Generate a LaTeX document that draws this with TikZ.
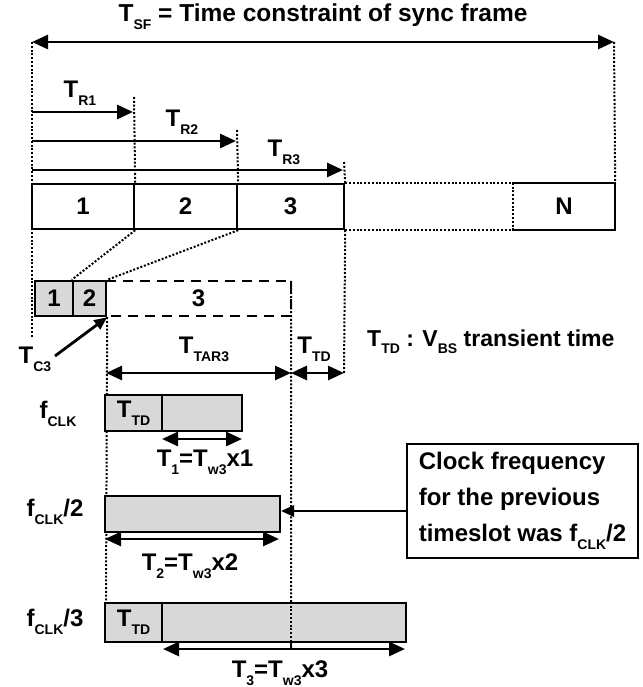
\documentclass[tikz,border=0pt]{standalone}
\usepackage{fontspec}
\setmainfont{Liberation Sans}
\usetikzlibrary{arrows.meta}
\newcommand\lsub[1]{\raisebox{-0.32em}{\fontsize{14}{14}\selectfont #1}}
\definecolor{shadegray}{RGB}{216,216,216}
\begin{document}
\begin{tikzpicture}[x=1pt,y=-1pt,
  lbl/.style={font=\fontsize{24}{26}\selectfont\bfseries, inner sep=0pt},
  slot/.style={draw, line width=2.4pt, minimum height=45pt, inner sep=0pt, font=\fontsize{24}{26}\selectfont\bfseries},
  sbox/.style={draw, line width=2.4pt, fill=shadegray, inner sep=0pt, font=\fontsize{24}{26}\selectfont\bfseries},
  dots/.style={line width=2pt, dash pattern=on 2pt off 1.8pt},
  dashes/.style={line width=2.4pt, dash pattern=on 10pt off 7pt},
  tip/.tip={Triangle[length=16pt,width=14pt]},
  onearr/.style={line width=2.8pt, -tip},
  twoarr/.style={line width=2.8pt, tip-tip},
]
\useasboundingbox (0,0) rectangle (642,687);

% ---------- title and frame arrow
\node[lbl, font=\fontsize{24.5}{26}\selectfont\bfseries] (title) at (323,17) {T\lsub{SF} = Time constraint of sync frame};
\coordinate (L0) at (32,42);
\coordinate (R0) at (614,42);
\draw[twoarr] (L0) -- (R0);

% ---------- slots
\node[slot, minimum width=102pt] (s1) at (83,206.5) {1};
\node[slot, minimum width=103pt] (s2) at (185.5,206.5) {2};
\node[slot, minimum width=107pt] (s3) at (290.5,206.5) {3};
\node[slot, draw=none, minimum width=100pt] (sN) at (564,206.5) {N};
\draw[line width=2.4pt] (sN.north west) -- (sN.north east) -- (sN.south east) -- (sN.south west);
\draw[dots] (sN.north west) -- (sN.south west);
\draw[dots] (s3.north east) -- (sN.north west);
\draw[dots] (s3.south east) -- (sN.south west);

% ---------- T_R arrows
\coordinate (a1s) at (32,112); \coordinate (a1e) at (133,112);
\coordinate (a2s) at (32,141); \coordinate (a2e) at (236,141);
\coordinate (a3s) at (32,170); \coordinate (a3e) at (343,170);
\draw[onearr] (a1s) -- (a1e);
\draw[onearr] (a2s) -- (a2e);
\draw[onearr] (a3s) -- (a3e);
\node[lbl] (tr1) at (80,93) {T\lsub{R1}};
\node[lbl] (tr2) at (182,122) {T\lsub{R2}};
\node[lbl] (tr3) at (284,152) {T\lsub{R3}};

% ---------- dotted verticals (top)
\coordinate (Lb) at (32,337);
\coordinate (v1t) at (134,97);
\coordinate (v2t) at (237,130);
\coordinate (v3t) at (344,162);
\coordinate (v3b) at (344,373);
\draw[dots] (L0) -- (Lb);
\draw[dots] (R0) -- (sN.north east);
\draw[dots] (v1t) -- (s1.north east);
\draw[dots] (v2t) -- (s2.north east);
\draw[dots] (v3t) -- (s3.north east);
\draw[dots] (s3.south east) -- (v3b);

% ---------- compressed slots
\node[sbox, minimum width=38pt, minimum height=35pt] (c1) at (54,298.5) {1};
\node[sbox, minimum width=33pt, minimum height=35pt] (c2) at (89.5,298.5) {2};
\node[lbl, minimum width=185pt, minimum height=35pt] (c3) at (198.5,298.5) {3};
\draw[dashes] (c3.north west) -- (c3.north east) -- (c3.south east) -- (c3.south west);
\draw[dots] (s1.south east) -- (c2.north west);
\draw[dots] (s2.south east) -- (c2.north east);

% T_C3
\node[lbl] (tc3) at (35,359) {T\lsub{C3}};
\coordinate (tc3s) at (55,356);
\draw[line width=2.8pt, -{Triangle[length=13pt,width=11pt]}] (tc3s) -- (c2.south east);

% ---------- TAR3 / TD
\coordinate (x106) at (106,373);
\coordinate (x291) at (291,373);
\coordinate (x291b) at (291,649);
\draw[dots] (c3.north east) -- (x291b);
\draw[twoarr] (x106) -- (x291);
\draw[twoarr] (x291) -- (v3b);
\node[lbl] (ttar) at (204,349) {T\lsub{TAR3}};
\node[lbl] (ttd) at (314,349) {T\lsub{TD}};
\node[lbl, anchor=west, font=\fontsize{23}{25}\selectfont\bfseries] (note) at (367,342) {T\lsub{TD} : V\lsub{BS} transient time};

% ---------- f rows
\coordinate (f3top) at (106,603);
\draw[dots] (c2.south east) -- (f3top);

\node[lbl] (fl1) at (58,414) {f\lsub{CLK}};
\node[lbl] (fl2) at (55,512) {f\lsub{CLK}/2};
\node[lbl] (fl3) at (55,622) {f\lsub{CLK}/3};

\node[sbox, minimum width=57pt, minimum height=36pt] (f1a) at (133.5,413) {T\lsub{TD}};
\node[sbox, minimum width=80pt, minimum height=36pt] (f1b) at (202,413) {};
\coordinate (t1s) at (162,439); \coordinate (t1e) at (242,439);
\draw[twoarr] (t1s) -- (t1e);
\node[lbl] (t1) at (205,462) {T\lsub{1}=T\lsub{w3}x1};

\node[sbox, minimum width=175pt, minimum height=36pt] (f2) at (192.5,514) {};
\coordinate (t2s) at (105,539); \coordinate (t2e) at (279,539);
\draw[twoarr] (t2s) -- (t2e);
\node[lbl] (t2) at (190,566) {T\lsub{2}=T\lsub{w3}x2};

\node[sbox, minimum width=57pt, minimum height=39pt] (f3a) at (133.5,622.5) {T\lsub{TD}};
\node[sbox, minimum width=244pt, minimum height=39pt] (f3b) at (284,622.5) {};
\draw[dots] (f3b.north -| x291) -- (x291b);
\coordinate (t3s) at (163,649); \coordinate (t3e) at (405,649);
\draw[twoarr] (t3s) -- (t3e);
\node[lbl] (t3) at (280,673) {T\lsub{3}=T\lsub{w3}x3};

% ---------- callout
\node[draw, line width=2.4pt, minimum width=231pt, minimum height=114pt, inner sep=0pt,
      align=left, font=\fontsize{24}{36}\selectfont\bfseries] (call) at (522.5,501)
      {Clock frequency\\for the previous\\timeslot was f\lsub{CLK}/2};
\coordinate (cs) at (407,511);
\coordinate (ce) at (281,511);
\draw[line width=2.8pt, -{Triangle[length=13pt,width=11pt]}] (cs) -- (ce);
\end{tikzpicture}
\end{document}
